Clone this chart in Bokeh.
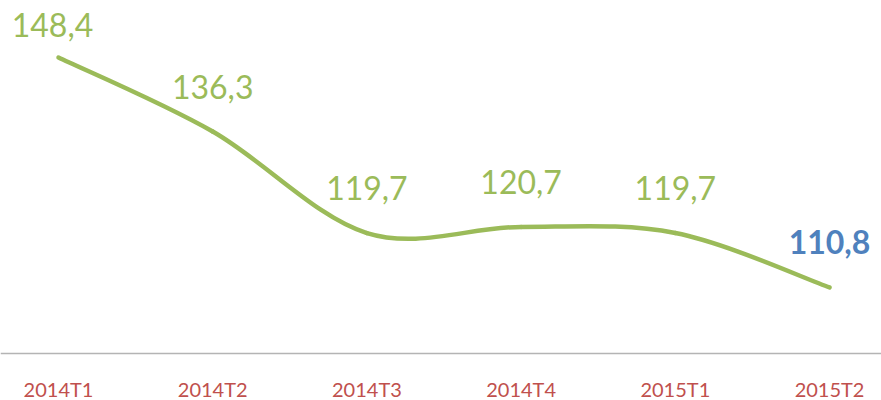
from bokeh.plotting import figure
from bokeh.models import ColumnDataSource, Range1d, Span
from bokeh.core.properties import value
from bokeh.embed import file_html
from bokeh.resources import INLINE

categories = ["2014T1", "2014T2", "2014T3", "2014T4", "2015T1", "2015T2"]
values = [148.4, 136.3, 119.7, 120.7, 119.7, 110.8]
labels = ["148,4", "136,3", "119,7", "120,7", "119,7", "110,8"]
axis_min = 100

GREEN = "#9BBB59"
BLUE = "#4F81BD"
RED = "#C0504D"
FONT = "Lato"

xs = list(range(len(categories)))

p = figure(width=881, height=400, output_backend="svg", toolbar_location=None,
           x_range=Range1d(-0.376, 5.337), y_range=Range1d(92.32, 157.72),
           x_axis_location=None, y_axis_location=None, min_border=0)
p.outline_line_color = None
p.grid.visible = False
p.background_fill_color = "white"
p.border_fill_color = "white"

# baseline (category axis line)
p.add_layout(Span(location=axis_min, dimension="width", line_color="#B4B4B4",
                  line_width=1.5))

# smooth line (Excel-like smoothing: Bezier segments through the data points)
n = len(xs)
x0, y0, x1, y1, cx0, cy0, cx1, cy1 = [], [], [], [], [], [], [], []
for i in range(n - 1):
    pm = max(i - 1, 0)
    pp = min(i + 2, n - 1)
    x0.append(xs[i]); y0.append(values[i])
    x1.append(xs[i + 1]); y1.append(values[i + 1])
    cx0.append(xs[i] + (xs[i + 1] - xs[pm]) / 6)
    cy0.append(values[i] + (values[i + 1] - values[pm]) / 6)
    cx1.append(xs[i + 1] - (xs[pp] - xs[i]) / 6)
    cy1.append(values[i + 1] - (values[pp] - values[i]) / 6)
p.bezier(x0=x0, y0=y0, x1=x1, y1=y1, cx0=cx0, cy0=cy0, cx1=cx1, cy1=cy1,
         line_color=GREEN, line_width=4.5, line_cap="round")

# data labels
src_first = ColumnDataSource(dict(x=xs[:1], y=values[:1], t=labels[:1]))
src_mid = ColumnDataSource(dict(x=xs[1:5], y=values[1:5], t=labels[1:5]))
src_last = ColumnDataSource(dict(x=xs[5:], y=values[5:], t=labels[5:]))
common = dict(text="t", text_align="center", text_baseline="bottom",
              text_font=value(FONT), text_font_size="32px")
p.text(x="x", y="y", source=src_first, text_color=GREEN, y_offset=-21,
       x_offset=-6, **common)
p.text(x="x", y="y", source=src_mid, text_color=GREEN, y_offset=-33, **common)
p.text(x="x", y="y", source=src_last, text_color=BLUE, y_offset=-33,
       text_font_style="bold", **common)

# category labels below the baseline
src_cat = ColumnDataSource(dict(x=xs, y=[axis_min] * len(xs), t=categories))
p.text(x="x", y="y", text="t", source=src_cat, text_align="center",
       text_baseline="middle", y_offset=35, text_color=RED,
       text_font=value(FONT), text_font_size="20px")

open("out.html", "w").write(file_html(p, INLINE))
